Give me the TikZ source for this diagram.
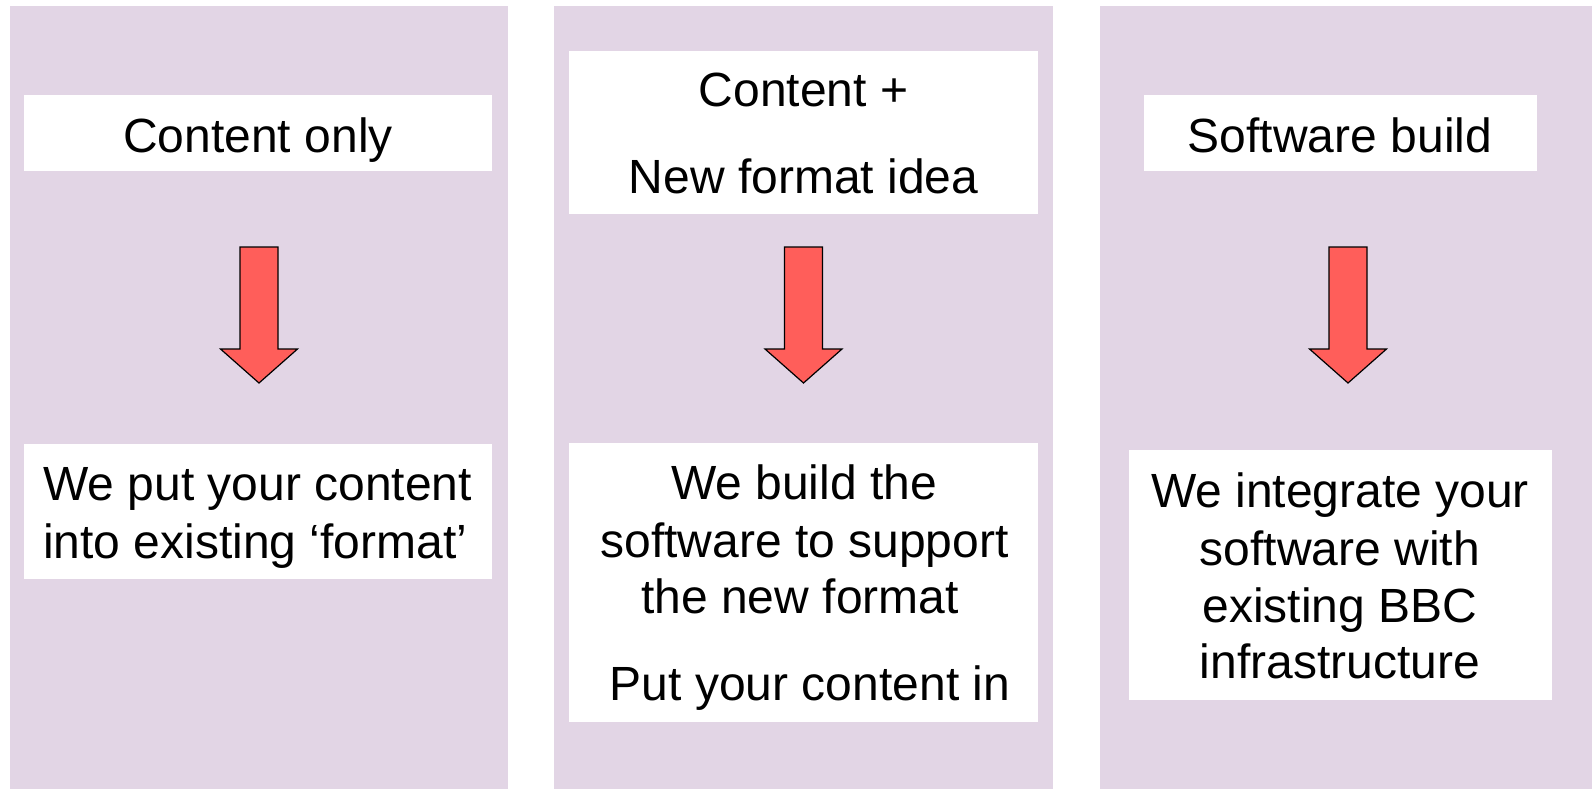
\documentclass[tikz,border=0pt]{standalone}
\usepackage{fontspec}
\setmainfont{Liberation Sans}
\usetikzlibrary{fit}
\definecolor{panelfill}{HTML}{E2D5E5}
\definecolor{arrowred}{HTML}{FF5E5A}
\begin{document}
\begin{tikzpicture}[x=1pt,y=-1pt,
  panelbox/.style={fill=panelfill, draw=none, inner sep=0pt},
  card/.style={fill=white, draw=none, inner sep=0pt},
  txt/.style={font=\fontsize{48}{57}\selectfont, anchor=base, inner sep=0pt},
  flowarrow/.style={fill=arrowred, draw=black, line width=1.2pt, line join=miter}]

\fill[white] (0,0) rectangle (1592,789);
\useasboundingbox (0,0) rectangle (1592,789);

% three columns
\node[panelbox, fit={(10,6) (508,789)}] (p1) {};
\node[panelbox, fit={(554,6) (1053,789)}] (p2) {};
\node[panelbox, fit={(1100,6) (1592,789)}] (p3) {};

% white cards
\node[card, fit={(24,95) (492,171)}] (c1top) {};
\node[card, fit={(569,51) (1038,214)}] (c2top) {};
\node[card, fit={(1144,95) (1537,171)}] (c3top) {};
\node[card, fit={(24,444) (492,579)}] (c1bot) {};
\node[card, fit={(569,443) (1038,722)}] (c2bot) {};
\node[card, fit={(1129,450) (1552,700)}] (c3bot) {};

% down arrows between the cards
\foreach \cx/\nm in {259/a1, 803.5/a2, 1348/a3} {
  \draw[flowarrow] (\cx-19,247) -- (\cx+19,247) -- (\cx+19,349) -- (\cx+38.5,349)
    -- (\cx,383) -- (\cx-38.5,349) -- (\cx-19,349) -- cycle;
}

% column 1
\node[txt] (t1) at (258,152) {Content only};
\node[txt, anchor=base west] (t1a) at (43,500) {We put your content};
\node[txt, anchor=base west] (t1b) at (43,558) {into existing ‘format’};

% column 2
\node[txt] (t2a) at (803.5,107) {Content +};
\node[txt] (t2b) at (803.5,193) {New format idea};
\node[txt] (t2c) at (804,499) {We build the};
\node[txt] (t2d) at (804.5,557) {software to support};
\node[txt] (t2e) at (800,613) {the new format};
\node[txt] (t2f) at (810,700) {Put your content in};

% column 3
\node[txt] (t3) at (1340,152) {Software build};
\node[txt] (t3a) at (1340,507) {We integrate your};
\node[txt] (t3b) at (1340,565) {software with};
\node[txt] (t3c) at (1340,622) {existing BBC};
\node[txt] (t3d) at (1340,678) {infrastructure};
\end{tikzpicture}
\end{document}
